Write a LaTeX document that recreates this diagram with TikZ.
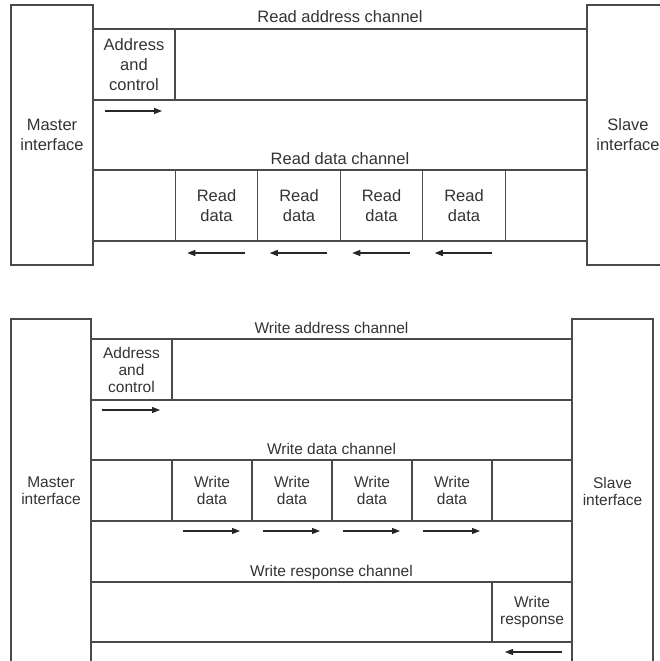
\documentclass[tikz,border=0pt]{standalone}
\usepackage{fontspec}
\setmainfont{Liberation Sans}
\usetikzlibrary{positioning,arrows.meta}
\definecolor{linegray}{HTML}{4A4A4A}
\definecolor{textgray}{HTML}{333333}

\begin{document}
\begin{tikzpicture}[x=1pt,y=-1pt]
	\tikzset{
	    box/.style={draw=linegray, line width=1.1pt, align=center, inner sep=0pt, outer sep=0pt, text=textgray},
	    chan/.style={draw=linegray, line width=1.1pt},
	    chanlabel/.style={anchor=base, yshift=6pt, inner sep=0pt, text=textgray},
	    flow/.style={-{Triangle[length=8pt,width=6pt]}, line width=1.1pt, black!85}
	}
	\useasboundingbox (0,0) rectangle (660,661);
	\clip (0,0) rectangle (660,661);

	% read channels
	\begin{scope}[font=\fontsize{16.5}{20}\selectfont]
	\node[box, minimum width=82pt, minimum height=260pt] (master1) at (52,135) {Master\\interface};
	\node[box, minimum width=82pt, minimum height=260pt] (slave1) at (628,135) {Slave\\interface};
	\node[box, minimum width=82pt, minimum height=71pt] (addr1) at (134,64.5) {Address\\and\\control};
	\node[box, minimum width=82.5pt, minimum height=71pt] (rd1) at (216.5,205.5) {Read\\data};
	\node[box, minimum width=82.5pt, minimum height=71pt, right=0pt of rd1] (rd2) {Read\\data};
	\node[box, minimum width=82.5pt, minimum height=71pt, right=0pt of rd2] (rd3) {Read\\data};
	\node[box, minimum width=82.5pt, minimum height=71pt, right=0pt of rd3] (rd4) {Read\\data};

	\draw[chan] (addr1.north west) -- node[chanlabel] {Read address channel} (addr1.north west -| slave1.west);
	\draw[chan] (addr1.south west) -- (addr1.south west -| slave1.west);
	\draw[chan] (rd1.north -| master1.east) -- node[chanlabel] {Read data channel} (rd1.north -| slave1.west);
	\draw[chan] (rd1.south -| master1.east) -- (rd1.south -| slave1.west);

	\draw[flow] ([shift={(12pt,-11pt)}]addr1.south west) -- ([shift={(-13pt,-11pt)}]addr1.south east);
	\foreach \c in {rd1,rd2,rd3,rd4}
	    \draw[flow] ([shift={(-13pt,-12pt)}]\c.south east) -- ([shift={(12pt,-12pt)}]\c.south west);
	\end{scope}

	% write channels
	\begin{scope}[font=\fontsize{15.5}{17}\selectfont]
	\node[box, minimum width=80pt, minimum height=344pt] (master2) at (51,491) {Master\\interface};
	\node[box, minimum width=81pt, minimum height=344pt] (slave2) at (612.5,491) {Slave\\interface};
	\node[box, minimum width=81pt, minimum height=61pt] (addr2) at (131.5,369.5) {Address\\and\\control};
	\node[box, minimum width=80pt, minimum height=61pt] (wd1) at (212,490.5) {Write\\data};
	\node[box, minimum width=80pt, minimum height=61pt, right=0pt of wd1] (wd2) {Write\\data};
	\node[box, minimum width=80pt, minimum height=61pt, right=0pt of wd2] (wd3) {Write\\data};
	\node[box, minimum width=80pt, minimum height=61pt, right=0pt of wd3] (wd4) {Write\\data};
	\node[box, minimum width=80pt, minimum height=60pt] (resp) at (532,612) {Write\\response};

	\draw[chan] (addr2.north west) -- node[chanlabel] {Write address channel} (addr2.north west -| slave2.west);
	\draw[chan] (addr2.south west) -- (addr2.south west -| slave2.west);
	\draw[chan] (wd1.north -| master2.east) -- node[chanlabel] {Write data channel} (wd1.north -| slave2.west);
	\draw[chan] (wd1.south -| master2.east) -- (wd1.south -| slave2.west);
	\draw[chan] (resp.north -| master2.east) -- node[chanlabel] {Write response channel} (resp.north -| slave2.west);
	\draw[chan] (resp.south -| master2.east) -- (resp.south -| slave2.west);

	\draw[flow] ([shift={(11pt,-10pt)}]addr2.south west) -- ([shift={(-12pt,-10pt)}]addr2.south east);
	\foreach \c in {wd1,wd2,wd3,wd4}
	    \draw[flow] ([shift={(11pt,-10pt)}]\c.south west) -- ([shift={(-12pt,-10pt)}]\c.south east);
	\draw[flow] ([shift={(-10pt,-10pt)}]resp.south east) -- ([shift={(13pt,-10pt)}]resp.south west);
	\end{scope}
\end{tikzpicture}
\end{document}
